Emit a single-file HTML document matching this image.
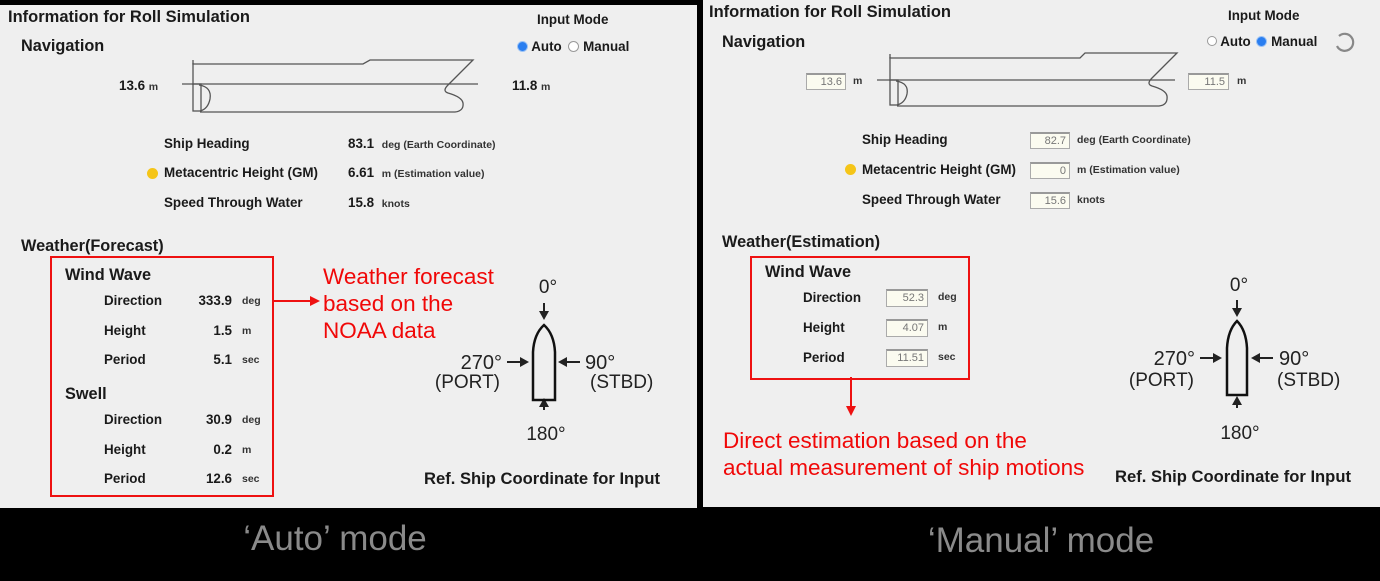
<!DOCTYPE html>
<html><head><meta charset="utf-8"><style>
body{margin:0;width:1380px;height:581px;background:#000;position:relative;overflow:hidden;font-family:"Liberation Sans",Arial,sans-serif;}
svg{overflow:visible;}
.p{position:absolute;background:#efefef;}
.t{position:absolute;white-space:nowrap;color:#1a1a1a;line-height:1;}
.h1{font-size:16.5px;font-weight:bold;}
.h2{font-size:16.3px;font-weight:bold;}
.l{font-size:13.4px;font-weight:bold;}
.v{font-size:13.4px;font-weight:bold;}
.u{font-size:10.5px;font-weight:bold;color:#333;}
.red{color:#f00808;font-size:22.5px;}
.box{position:absolute;border:1px solid #aaa;border-top:2px solid #999;background:#fbfbf0;font-size:11px;color:#777;text-align:right;padding-right:3px;box-sizing:border-box;line-height:14px;}
.rb{position:absolute;border:2px solid #ee1111;}
.cap{position:absolute;color:#8a8a8a;font-size:35px;white-space:nowrap;transform:translateX(-50%);}
</style></head><body>

<div class="p" style="left:0;top:5px;width:697px;height:503px;"></div>
<div class="p" style="left:703px;top:0;width:677px;height:507px;"></div>

<!-- LEFT PANEL -->
<div class="t h1" style="left:8px;top:9px;">Information for Roll Simulation</div>
<div class="t h2" style="left:21px;top:38px;">Navigation</div>
<div class="t l" style="left:537px;top:13px;">Input Mode</div>
<div class="t l" style="left:517px;top:40px;"><span style="display:inline-block;width:9px;height:9px;border-radius:50%;background:#2a7ef0;border:1px solid #9cc3f5;vertical-align:-1px"></span> Auto <span style="display:inline-block;width:9px;height:9px;border-radius:50%;border:1px solid #999;background:#fff;vertical-align:-1px;margin-left:3px"></span> Manual</div>
<div class="t v" style="left:119px;top:79px;">13.6 <span class="u">m</span></div>
<div class="t v" style="left:512px;top:79px;">11.8 <span class="u">m</span></div>
<svg style="position:absolute;left:180px;top:55px" width="320" height="62"><g fill="none" stroke="#555" stroke-width="1.3"><path d="M13 8 V9 H183 L190 5 H293 L268 30 Q262 36 268 38 Q282 42 283 48 Q284 56 275 57 H20"/><path d="M2 29 H298"/><path d="M13 5 V30"/><rect x="13" y="29" width="8" height="27"/><path d="M19 30 Q32 32 30 44 Q28 54 20 56"/></g></svg>

<div class="t l" style="left:164px;top:137px;">Ship Heading</div>
<div class="t v" style="left:348px;top:137px;">83.1 <span class="u" style="margin-left:4px">deg (Earth Coordinate)</span></div>
<div class="t" style="left:147px;top:168px;width:11px;height:11px;border-radius:50%;background:#f5c518;"></div>
<div class="t l" style="left:164px;top:166px;">Metacentric Height (GM)</div>
<div class="t v" style="left:348px;top:166px;">6.61 <span class="u" style="margin-left:4px">m (Estimation value)</span></div>
<div class="t l" style="left:164px;top:196px;">Speed Through Water</div>
<div class="t v" style="left:348px;top:196px;">15.8 <span class="u" style="margin-left:4px">knots</span></div>

<div class="t h2" style="left:21px;top:238px;">Weather(Forecast)</div>
<div class="rb" style="left:50px;top:256px;width:220px;height:237px;"></div>
<div class="t h2" style="left:65px;top:267px;">Wind Wave</div>
<div class="t l" style="left:104px;top:294px;">Direction</div>
<div class="t v" style="left:180px;top:294px;width:52px;text-align:right;">333.9</div>
<div class="t u" style="left:242px;top:296px;">deg</div>
<div class="t l" style="left:104px;top:324px;">Height</div>
<div class="t v" style="left:180px;top:324px;width:52px;text-align:right;">1.5</div>
<div class="t u" style="left:242px;top:326px;">m</div>
<div class="t l" style="left:104px;top:353px;">Period</div>
<div class="t v" style="left:180px;top:353px;width:52px;text-align:right;">5.1</div>
<div class="t u" style="left:242px;top:355px;">sec</div>
<div class="t h2" style="left:65px;top:386px;">Swell</div>
<div class="t l" style="left:104px;top:413px;">Direction</div>
<div class="t v" style="left:180px;top:413px;width:52px;text-align:right;">30.9</div>
<div class="t u" style="left:242px;top:415px;">deg</div>
<div class="t l" style="left:104px;top:443px;">Height</div>
<div class="t v" style="left:180px;top:443px;width:52px;text-align:right;">0.2</div>
<div class="t u" style="left:242px;top:445px;">m</div>
<div class="t l" style="left:104px;top:472px;">Period</div>
<div class="t v" style="left:180px;top:472px;width:52px;text-align:right;">12.6</div>
<div class="t u" style="left:242px;top:474px;">sec</div>

<svg style="position:absolute;left:272px;top:294px" width="52" height="14"><path d="M0 7 H42" stroke="#ee1111" stroke-width="2"/><path d="M38 2 L48 7 L38 12 Z" fill="#ee1111"/></svg>
<div class="t red" style="left:323px;top:263px;line-height:27px;">Weather forecast<br>based on the<br>NOAA data</div>

<svg style="position:absolute;left:440px;top:270px" width="240" height="180">
<g fill="#222"><path d="M104 33 V44" stroke="#222" stroke-width="2"/><path d="M99 41 L104 50 L109 41Z"/>
<path d="M104 140 V133" stroke="#222" stroke-width="2"/><path d="M99 137 L104 128 L109 137Z"/>
<path d="M67 92 H82" stroke="#222" stroke-width="2"/><path d="M80 87 L89 92 L80 97Z"/>
<path d="M140 92 H125" stroke="#222" stroke-width="2"/><path d="M127 87 L118 92 L127 97Z"/></g>
<path d="M93 130 V82 Q94 64 104 55 Q114 64 115 82 V130 Z" fill="none" stroke="#111" stroke-width="2.5"/>
<text x="108" y="23" font-size="19" text-anchor="middle" fill="#222" font-family="Liberation Sans">0°</text>
<text x="62" y="99" font-size="20" text-anchor="end" fill="#222" font-family="Liberation Sans">270°</text>
<text x="60" y="118" font-size="19" text-anchor="end" fill="#222" font-family="Liberation Sans">(PORT)</text>
<text x="145" y="99" font-size="20" fill="#222" font-family="Liberation Sans">90°</text>
<text x="150" y="118" font-size="19" fill="#222" font-family="Liberation Sans">(STBD)</text>
<text x="106" y="170" font-size="19" text-anchor="middle" fill="#222" font-family="Liberation Sans">180°</text>
</svg>
<div class="t" style="left:424px;top:471px;font-size:16.6px;font-weight:bold;">Ref. Ship Coordinate for Input</div>

<div class="cap" style="left:335px;top:519px;">‘Auto’ mode</div>

<!-- RIGHT PANEL -->
<div class="t h1" style="left:709px;top:4px;">Information for Roll Simulation</div>
<div class="t h2" style="left:722px;top:34px;">Navigation</div>
<div class="t l" style="left:1228px;top:9px;">Input Mode</div>
<div class="t l" style="left:1207px;top:35px;"><span style="display:inline-block;width:8px;height:8px;border-radius:50%;border:1px solid #999;background:#fff;vertical-align:0"></span> Auto <span style="display:inline-block;width:9px;height:9px;border-radius:50%;background:#2a7ef0;border:1px solid #9cc3f5;vertical-align:-1px;margin-left:2px"></span> Manual</div>
<svg style="position:absolute;left:1333px;top:30px" width="24" height="24"><path d="M6 6 A8.5 8.5 0 1 1 4 16" fill="none" stroke="#888" stroke-width="2.2"/></svg>
<div class="box" style="left:806px;top:73px;width:40px;height:17px;">13.6</div>
<div class="t u" style="left:853px;top:76px;">m</div>
<div class="box" style="left:1188px;top:73px;width:41px;height:17px;">11.5</div>
<div class="t u" style="left:1237px;top:76px;">m</div>
<svg style="position:absolute;left:875px;top:49px" width="320" height="62"><g fill="none" stroke="#555" stroke-width="1.3"><path d="M15 8 V9 H205 L210 4 H302 L277 29 Q271 35 277 37 Q291 41 292 47 Q293 56 284 57 H22"/><path d="M2 31 H300"/><path d="M15 5 V32"/><rect x="15" y="31" width="8" height="25"/><path d="M21 32 Q34 34 32 45 Q30 54 22 56"/></g></svg>

<div class="t l" style="left:862px;top:133px;">Ship Heading</div>
<div class="box" style="left:1030px;top:132px;width:40px;height:17px;">82.7</div>
<div class="t u" style="left:1077px;top:135px;">deg (Earth Coordinate)</div>
<div class="t" style="left:845px;top:164px;width:11px;height:11px;border-radius:50%;background:#f5c518;"></div>
<div class="t l" style="left:862px;top:163px;">Metacentric Height (GM)</div>
<div class="box" style="left:1030px;top:162px;width:40px;height:17px;">0</div>
<div class="t u" style="left:1077px;top:165px;">m (Estimation value)</div>
<div class="t l" style="left:862px;top:193px;">Speed Through Water</div>
<div class="box" style="left:1030px;top:192px;width:40px;height:17px;">15.6</div>
<div class="t u" style="left:1077px;top:195px;">knots</div>

<div class="t h2" style="left:722px;top:234px;">Weather(Estimation)</div>
<div class="rb" style="left:750px;top:256px;width:216px;height:120px;"></div>
<div class="t h2" style="left:765px;top:264px;">Wind Wave</div>
<div class="t l" style="left:803px;top:291px;">Direction</div>
<div class="box" style="left:886px;top:289px;width:42px;height:18px;">52.3</div>
<div class="t u" style="left:938px;top:292px;">deg</div>
<div class="t l" style="left:803px;top:321px;">Height</div>
<div class="box" style="left:886px;top:319px;width:42px;height:18px;">4.07</div>
<div class="t u" style="left:938px;top:322px;">m</div>
<div class="t l" style="left:803px;top:351px;">Period</div>
<div class="box" style="left:886px;top:349px;width:42px;height:18px;">11.51</div>
<div class="t u" style="left:938px;top:352px;">sec</div>
<svg style="position:absolute;left:843px;top:377px" width="16" height="42"><path d="M8 0 V32" stroke="#ee1111" stroke-width="2"/><path d="M3 29 L8 39 L13 29 Z" fill="#ee1111"/></svg>
<div class="t red" style="left:723px;top:427px;line-height:27px;">Direct estimation based on the<br>actual measurement of ship motions</div>

<svg style="position:absolute;left:1133px;top:270px" width="240" height="180">
<g fill="#222"><path d="M104 30 V41" stroke="#222" stroke-width="2"/><path d="M99 38 L104 47 L109 38Z"/>
<path d="M104 138 V131" stroke="#222" stroke-width="2"/><path d="M99 135 L104 126 L109 135Z"/>
<path d="M67 88 H82" stroke="#222" stroke-width="2"/><path d="M80 83 L89 88 L80 93Z"/>
<path d="M140 88 H125" stroke="#222" stroke-width="2"/><path d="M127 83 L118 88 L127 93Z"/></g>
<path d="M94 125 V78 Q95 60 104 51 Q113 60 114 78 V125 Z" fill="none" stroke="#111" stroke-width="2.5"/>
<text x="106" y="21" font-size="19" text-anchor="middle" fill="#222" font-family="Liberation Sans">0°</text>
<text x="62" y="95" font-size="20" text-anchor="end" fill="#222" font-family="Liberation Sans">270°</text>
<text x="61" y="116" font-size="19" text-anchor="end" fill="#222" font-family="Liberation Sans">(PORT)</text>
<text x="146" y="95" font-size="20" fill="#222" font-family="Liberation Sans">90°</text>
<text x="144" y="116" font-size="19" fill="#222" font-family="Liberation Sans">(STBD)</text>
<text x="107" y="169" font-size="19" text-anchor="middle" fill="#222" font-family="Liberation Sans">180°</text>
</svg>
<div class="t" style="left:1115px;top:469px;font-size:16.6px;font-weight:bold;">Ref. Ship Coordinate for Input</div>

<div class="cap" style="left:1041px;top:521px;">‘Manual’ mode</div>
</body></html>
